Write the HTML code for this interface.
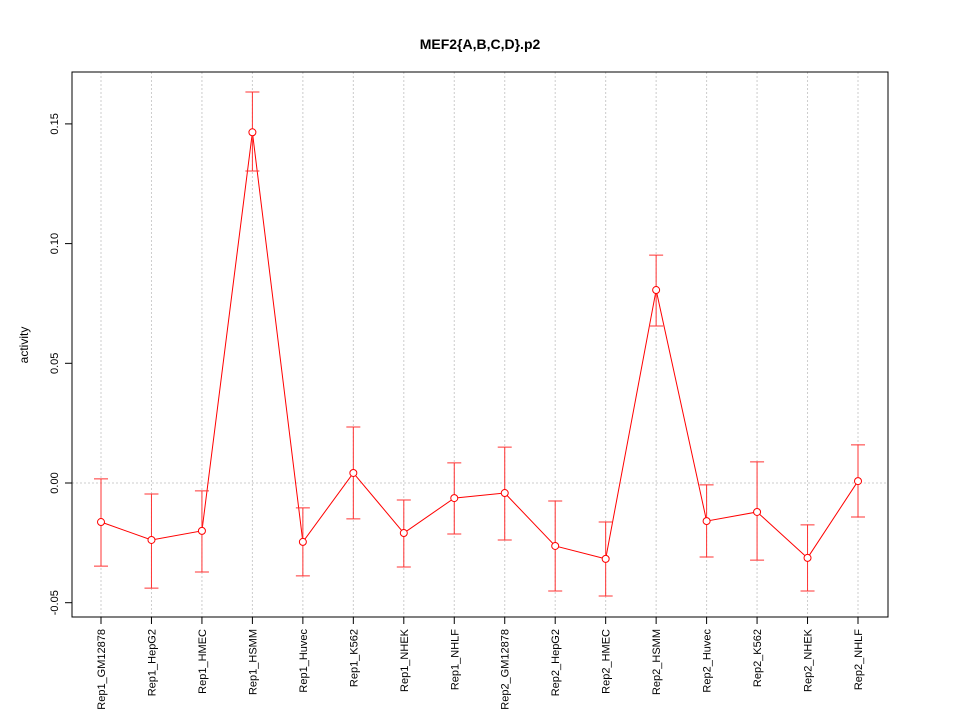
<!DOCTYPE html>
<html><head><meta charset="utf-8"><style>body{margin:0;background:#fff}svg{display:block;font-family:"Liberation Sans",sans-serif}</style></head>
<body>
<svg id="chart" width="960" height="720">
<rect width="960" height="720" fill="#fff"/>
<text x="480" y="49" text-anchor="middle" font-size="14" font-weight="bold">MEF2{A,B,C,D}.p2</text>
<text transform="translate(28,345) rotate(-90)" text-anchor="middle" font-size="12">activity</text>
<g id="grid"></g><g id="axes"></g><g id="marks"></g>
<rect x="72" y="72" width="816" height="545" fill="none" stroke="#000"/>
</svg>
<script>
const categories=["Rep1_GM12878","Rep1_HepG2","Rep1_HMEC","Rep1_HSMM","Rep1_Huvec","Rep1_K562","Rep1_NHEK","Rep1_NHLF","Rep2_GM12878","Rep2_HepG2","Rep2_HMEC","Rep2_HSMM","Rep2_Huvec","Rep2_K562","Rep2_NHEK","Rep2_NHLF"];
const values=[-0.0163,-0.0238,-0.0200,0.1465,-0.0246,0.0042,-0.0209,-0.0063,-0.0042,-0.0263,-0.0317,0.0806,-0.0159,-0.0121,-0.0313,0.0008];
const upper=[0.0017,-0.0046,-0.0033,0.1633,-0.0104,0.0234,-0.0071,0.0084,0.0150,-0.0075,-0.0163,0.0952,-0.0008,0.0088,-0.0175,0.0159];
const lower=[-0.0347,-0.0439,-0.0372,0.1303,-0.0388,-0.0150,-0.0351,-0.0213,-0.0238,-0.0451,-0.0472,0.0656,-0.0309,-0.0322,-0.0451,-0.0142];
const yTicks=[-0.05,0,0.05,0.10,0.15];
const yTickLabels=["-0.05","0.00","0.05","0.10","0.15"];
const NS="http://www.w3.org/2000/svg";
function y(v){return 483-v*2394;}
function x(i){return 101+i*(858-101)/(categories.length-1);}
function mk(tag,attrs,parent){const e=document.createElementNS(NS,tag);for(const k in attrs)e.setAttribute(k,attrs[k]);document.getElementById(parent).appendChild(e);return e;}
categories.forEach((c,i)=>{
 const g=mk('line',{x1:x(i),x2:x(i),y1:72,y2:617,stroke:'#ccc','stroke-dasharray':'2,2'},'grid');
 
 
 const t=mk('line',{x1:x(i),x2:x(i),y1:617,y2:624,stroke:'#000'},'axes');
 
 
 const l=mk('text',{transform:`translate(${x(i)+4},629) rotate(-90)`,'text-anchor':'end','font-size':'11'},'axes');
 l.textContent=c;
 
 
});
const zg=mk('line',{x1:72,x2:888,y1:y(0),y2:y(0),stroke:'#ccc','stroke-dasharray':'2,2'},'grid');


yTicks.forEach((v,i)=>{
 const t=mk('line',{x1:65,x2:72,y1:y(v),y2:y(v),stroke:'#000'},'axes');
 
 
 const l=mk('text',{transform:`translate(58,${y(v)}) rotate(-90)`,'text-anchor':'middle','font-size':'11'},'axes');
 l.textContent=yTickLabels[i];
 
 
});
const pl=mk('polyline',{points:values.map((v,i)=>x(i)+','+y(v)).join(' '),fill:'none',stroke:'#f00'},'marks');


values.forEach((v,i)=>{
 const b=mk('path',{d:`M${x(i)},${y(upper[i])}V${y(lower[i])}M${x(i)-7},${y(upper[i])}H${x(i)+7}M${x(i)-7},${y(lower[i])}H${x(i)+7}`,stroke:'#f33',fill:'none'},'marks');
 
 
 const p=mk('circle',{cx:x(i),cy:y(v),r:3.5,fill:'#fff',stroke:'#f00'},'marks');
 
 
});
</script>
</body></html>
